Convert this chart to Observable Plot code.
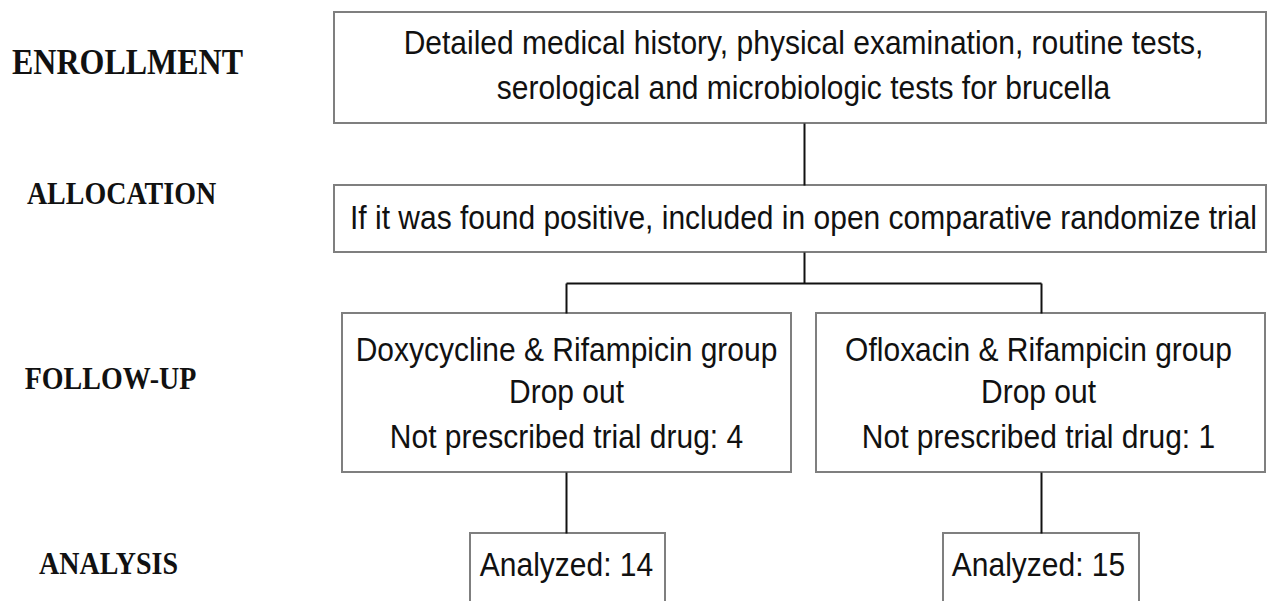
<!DOCTYPE html>
<html>
<head>
<meta charset="utf-8">
<script src="https://cdn.jsdelivr.net/npm/d3@7"></script>
<script src="https://cdn.jsdelivr.net/npm/@observablehq/plot@0.6"></script>
<style>
  html, body { margin: 0; padding: 0; background: #ffffff; }
  #chart svg { display: block; }
</style>
</head>
<body>
<div id="chart"></div>
<script>
// Stage labels (left column)
const stageLabels = ["ENROLLMENT", "ALLOCATION", "FOLLOW-UP", "ANALYSIS"];
const stageX = [127, 121, 110, 108];
const stageY = [62, 193, 378, 563];

// Box contents
const enrollmentLines = [
  "Detailed medical history, physical examination, routine tests,",
  "serological and microbiologic tests for brucella"
];
const allocationLines = [
  "If it was found positive, included in open comparative randomize trial"
];
const groupNames = ["Doxycycline & Rifampicin group", "Ofloxacin & Rifampicin group"];
const dropOutLabel = "Drop out";
const notPrescribed = [4, 1];
const analyzed = [14, 15];

// Layout of boxes (flowchart geometry)
const boxes = [
  {x1: 334, x2: 1266, y1: 12,  y2: 123},
  {x1: 334, x2: 1266, y1: 185, y2: 252},
  {x1: 342, x2: 791,  y1: 313, y2: 472},
  {x1: 816, x2: 1265, y1: 313, y2: 472},
  {x1: 470, x2: 665,  y1: 533, y2: 606},
  {x1: 943, x2: 1139, y1: 533, y2: 606}
];
const connectors = [
  {x1: 804,  y1: 123, x2: 804,  y2: 185},
  {x1: 804,  y1: 252, x2: 804,  y2: 283},
  {x1: 566,  y1: 283, x2: 1041, y2: 283},
  {x1: 566,  y1: 283, x2: 566,  y2: 313},
  {x1: 1041, y1: 283, x2: 1041, y2: 313},
  {x1: 566,  y1: 472, x2: 566,  y2: 533},
  {x1: 1041, y1: 472, x2: 1041, y2: 533}
];
const groupCenters = [566, 1038];

// Build text table
const boxText = [];
enrollmentLines.forEach((t, i) => boxText.push({x: 803, y: [43, 88][i], text: t}));
allocationLines.forEach(t => boxText.push({x: 803, y: 218, text: t}));
groupNames.forEach((g, i) => {
  const cx = groupCenters[i];
  boxText.push({x: cx, y: 350, text: g});
  boxText.push({x: cx, y: 392, text: dropOutLabel});
  boxText.push({x: cx, y: 437, text: "Not prescribed trial drug: " + notPrescribed[i]});
  boxText.push({x: cx, y: 565, text: "Analyzed: " + analyzed[i]});
});
const stages = stageLabels.map((s, i) => ({x: stageX[i], y: stageY[i], text: s}));

const sans = "Arial, 'Liberation Sans', sans-serif";
const serif = "'Times New Roman', 'Liberation Serif', serif";

const chart = Plot.plot({
  width: 1267,
  height: 601,
  margin: 0,
  x: {domain: [0, 1267], range: [0, 1267], axis: null},
  y: {domain: [0, 601], range: [0, 601], axis: null},
  style: {background: "#ffffff"},
  marks: [
    Plot.rect(boxes, {x1: "x1", x2: "x2", y1: "y1", y2: "y2", fill: "#ffffff", stroke: "#7f7f7f", strokeWidth: 2}),
    Plot.link(connectors, {x1: "x1", y1: "y1", x2: "x2", y2: "y2", stroke: "#111111", strokeWidth: 2}),
    Plot.text(boxText, {x: "x", y: "y", text: "text", fontFamily: sans, fontSize: 30, fill: "#111111", textAnchor: "middle"}),
    Plot.text(stages.slice(0, 1), {x: "x", y: "y", text: "text", fontFamily: serif, fontWeight: "bold", fontSize: 32, fill: "#111111", textAnchor: "middle"}),
    Plot.text(stages.slice(1), {x: "x", y: "y", text: "text", fontFamily: serif, fontWeight: "bold", fontSize: 28, fill: "#111111", textAnchor: "middle"})
  ]
});

// The source image is slightly stretched vertically: mimic that on the glyphs.
d3.select(chart).selectAll("text").each(function () {
  const t = this.getAttribute("transform");
  if (t) {
    this.setAttribute("transform", t + " scale(1,1.12)");
  } else {
    const x = this.getAttribute("x") || 0, y = this.getAttribute("y") || 0;
    this.removeAttribute("x"); this.removeAttribute("y");
    this.setAttribute("transform", `translate(${x},${y}) scale(1,1.12)`);
  }
});
document.getElementById("chart").appendChild(chart);
</script>
</body>
</html>
